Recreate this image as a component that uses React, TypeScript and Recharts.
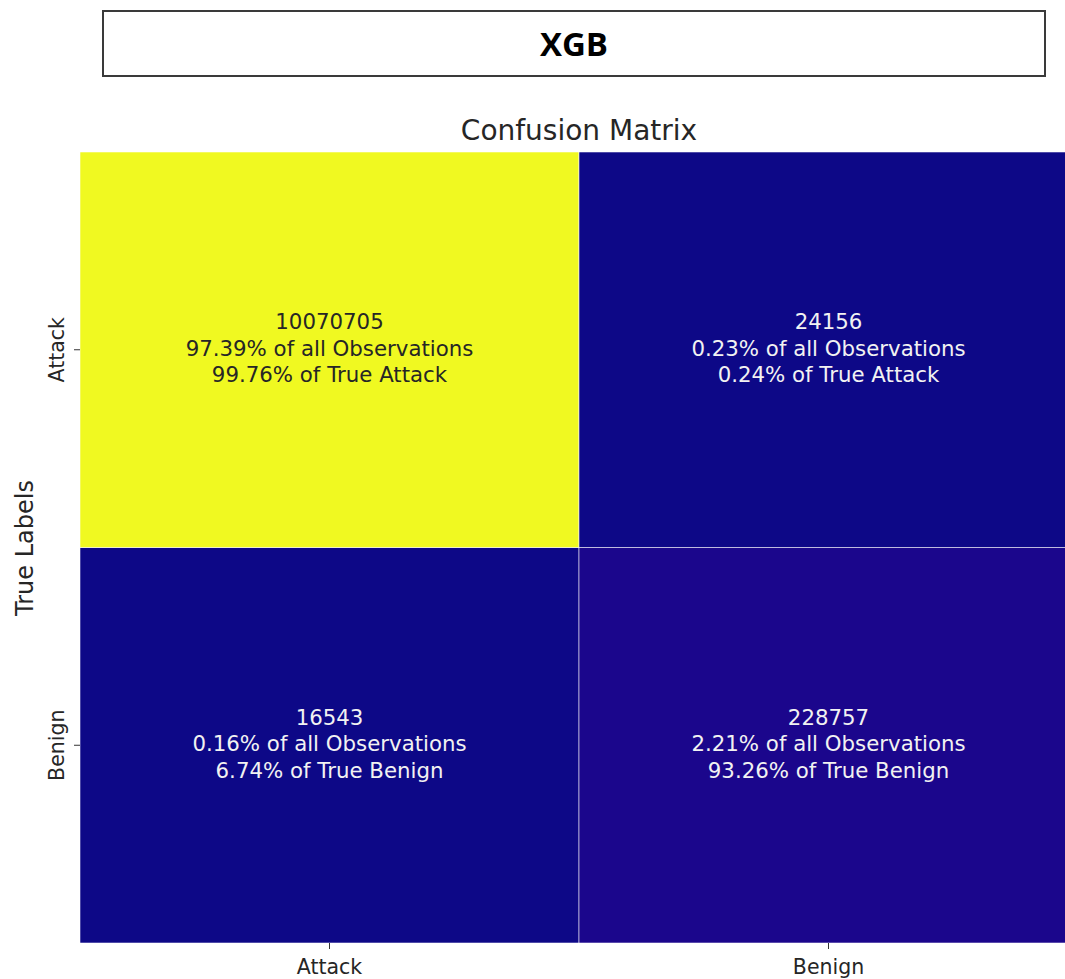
import React from 'react';
import { BarChart, Bar, XAxis, YAxis, Cell, LabelList } from 'recharts';

// ---- data ----
const predictedLabels = ['Attack', 'Benign'];
const trueLabels = ['Attack', 'Benign'];
const counts = [
  [10070705, 24156],
  [16543, 228757],
];
const pctOfAll = [
  [97.39, 0.23],
  [0.16, 2.21],
];
const pctOfTrue = [
  [99.76, 0.24],
  [6.74, 93.26],
];
const yTickValues = [1.5, 0.5];

// ---- styles ----
const cellColors = [
  ['#F0F921', '#0D0887'],
  ['#0D0887', '#1B068C'],
];
const FONT = '"DejaVu Sans", sans-serif';
const DARK_TEXT = '#262626';
const LIGHT_TEXT = '#f2f2f2';

const data = predictedLabels.map((p) => {
  const row: Record<string, string | number> = { pred: p };
  trueLabels.forEach((t) => (row[t] = 1));
  return row;
});

const maxCount = Math.max(...counts.flat());

const makeCellLabel = (rowIdx: number) => (props: any) => {
  const x = Number(props.x);
  const y = Number(props.y);
  const w = Number(props.width);
  const h = Number(props.height);
  const col = Number(props.index);
  const cx = x + w / 2;
  const cy = y + h / 2;
  const light = counts[rowIdx][col] > maxCount / 2;
  return (
    <text
      x={cx}
      textAnchor="middle"
      fontFamily={FONT}
      fontSize={21.3}
      fill={light ? DARK_TEXT : LIGHT_TEXT}
    >
      <tspan x={cx} y={cy - 20.5}>{counts[rowIdx][col]}</tspan>
      <tspan x={cx} y={cy + 6}>{`${pctOfAll[rowIdx][col].toFixed(2)}% of all Observations`}</tspan>
      <tspan x={cx} y={cy + 32.5}>{`${pctOfTrue[rowIdx][col].toFixed(2)}% of True ${trueLabels[rowIdx]}`}</tspan>
    </text>
  );
};

const YTick = (props: any) => {
  const { x, y, payload } = props;
  const label = trueLabels[payload.value > 1 ? 0 : 1];
  return (
    <text
      x={x}
      y={y}
      transform={`rotate(-90 ${x} ${y})`}
      textAnchor="middle"
      fontFamily={FONT}
      fontSize={20.5}
      fill="#262626"
    >
      {label}
    </text>
  );
};

const XTick = (props: any) => {
  const { x, y, payload } = props;
  return (
    <text x={x} y={Number(y) + 19} textAnchor="middle" fontFamily={FONT} fontSize={20.5} fill="#262626">
      {payload.value}
    </text>
  );
};

export default function App() {
  const stackOrder = [...trueLabels].reverse(); // bottom row first
  return (
    <div
      style={{
        position: 'fixed',
        left: 0,
        top: 0,
        width: 1065,
        height: 979,
        overflow: 'hidden',
        background: '#ffffff',
      }}
    >
      <div
        style={{
          position: 'absolute',
          left: 102,
          top: 10,
          width: 944,
          height: 67,
          boxSizing: 'border-box',
          border: '2px solid #3a3a3a',
          display: 'flex',
          alignItems: 'center',
          justifyContent: 'center',
          fontFamily: '"Open Sans", sans-serif',
          fontWeight: 700,
          fontSize: 33,
          color: '#000',
        }}
      >
        XGB
      </div>
      <svg
        width={1065}
        height={979}
        style={{ position: 'absolute', left: 0, top: 0, pointerEvents: 'none' }}
      >
        <text x={579} y={140} textAnchor="middle" fontFamily={FONT} fontSize={28} fill="#262626">
          Confusion Matrix
        </text>
        <text
          x={33}
          y={548}
          transform="rotate(-90 33 548)"
          textAnchor="middle"
          fontFamily={FONT}
          fontSize={24}
          fill="#262626"
        >
          True Labels
        </text>
      </svg>
      <div style={{ position: 'absolute', left: 0, top: 0 }}>
        <BarChart
          width={1100}
          height={979}
          data={data}
          margin={{ top: 152, right: 22, bottom: 0, left: 0 }}
          barCategoryGap={0}
          barGap={0}
        >
          <XAxis
            dataKey="pred"
            height={36}
            axisLine={false}
            tickSize={6}
            tickMargin={6}
            tickLine={{ stroke: '#333333' }}
            tick={<XTick />}
            interval={0}
          />
          <YAxis
            type="number"
            width={80}
            domain={[0, 2]}
            ticks={yTickValues}
            axisLine={false}
            tickSize={6}
            tickMargin={10}
            tickLine={{ stroke: '#333333' }}
            tick={<YTick />}
            interval={0}
          />
          {stackOrder.map((t) => {
            const rowIdx = trueLabels.indexOf(t);
            return (
              <Bar
                key={t}
                dataKey={t}
                stackId="cm"
                isAnimationActive={false}
                stroke="#ffffff"
                strokeOpacity={0.55}
                strokeWidth={1}
              >
                {predictedLabels.map((p, j) => (
                  <Cell key={p} fill={cellColors[rowIdx][j]} />
                ))}
                <LabelList content={makeCellLabel(rowIdx)} />
              </Bar>
            );
          })}
        </BarChart>
      </div>
    </div>
  );
}
